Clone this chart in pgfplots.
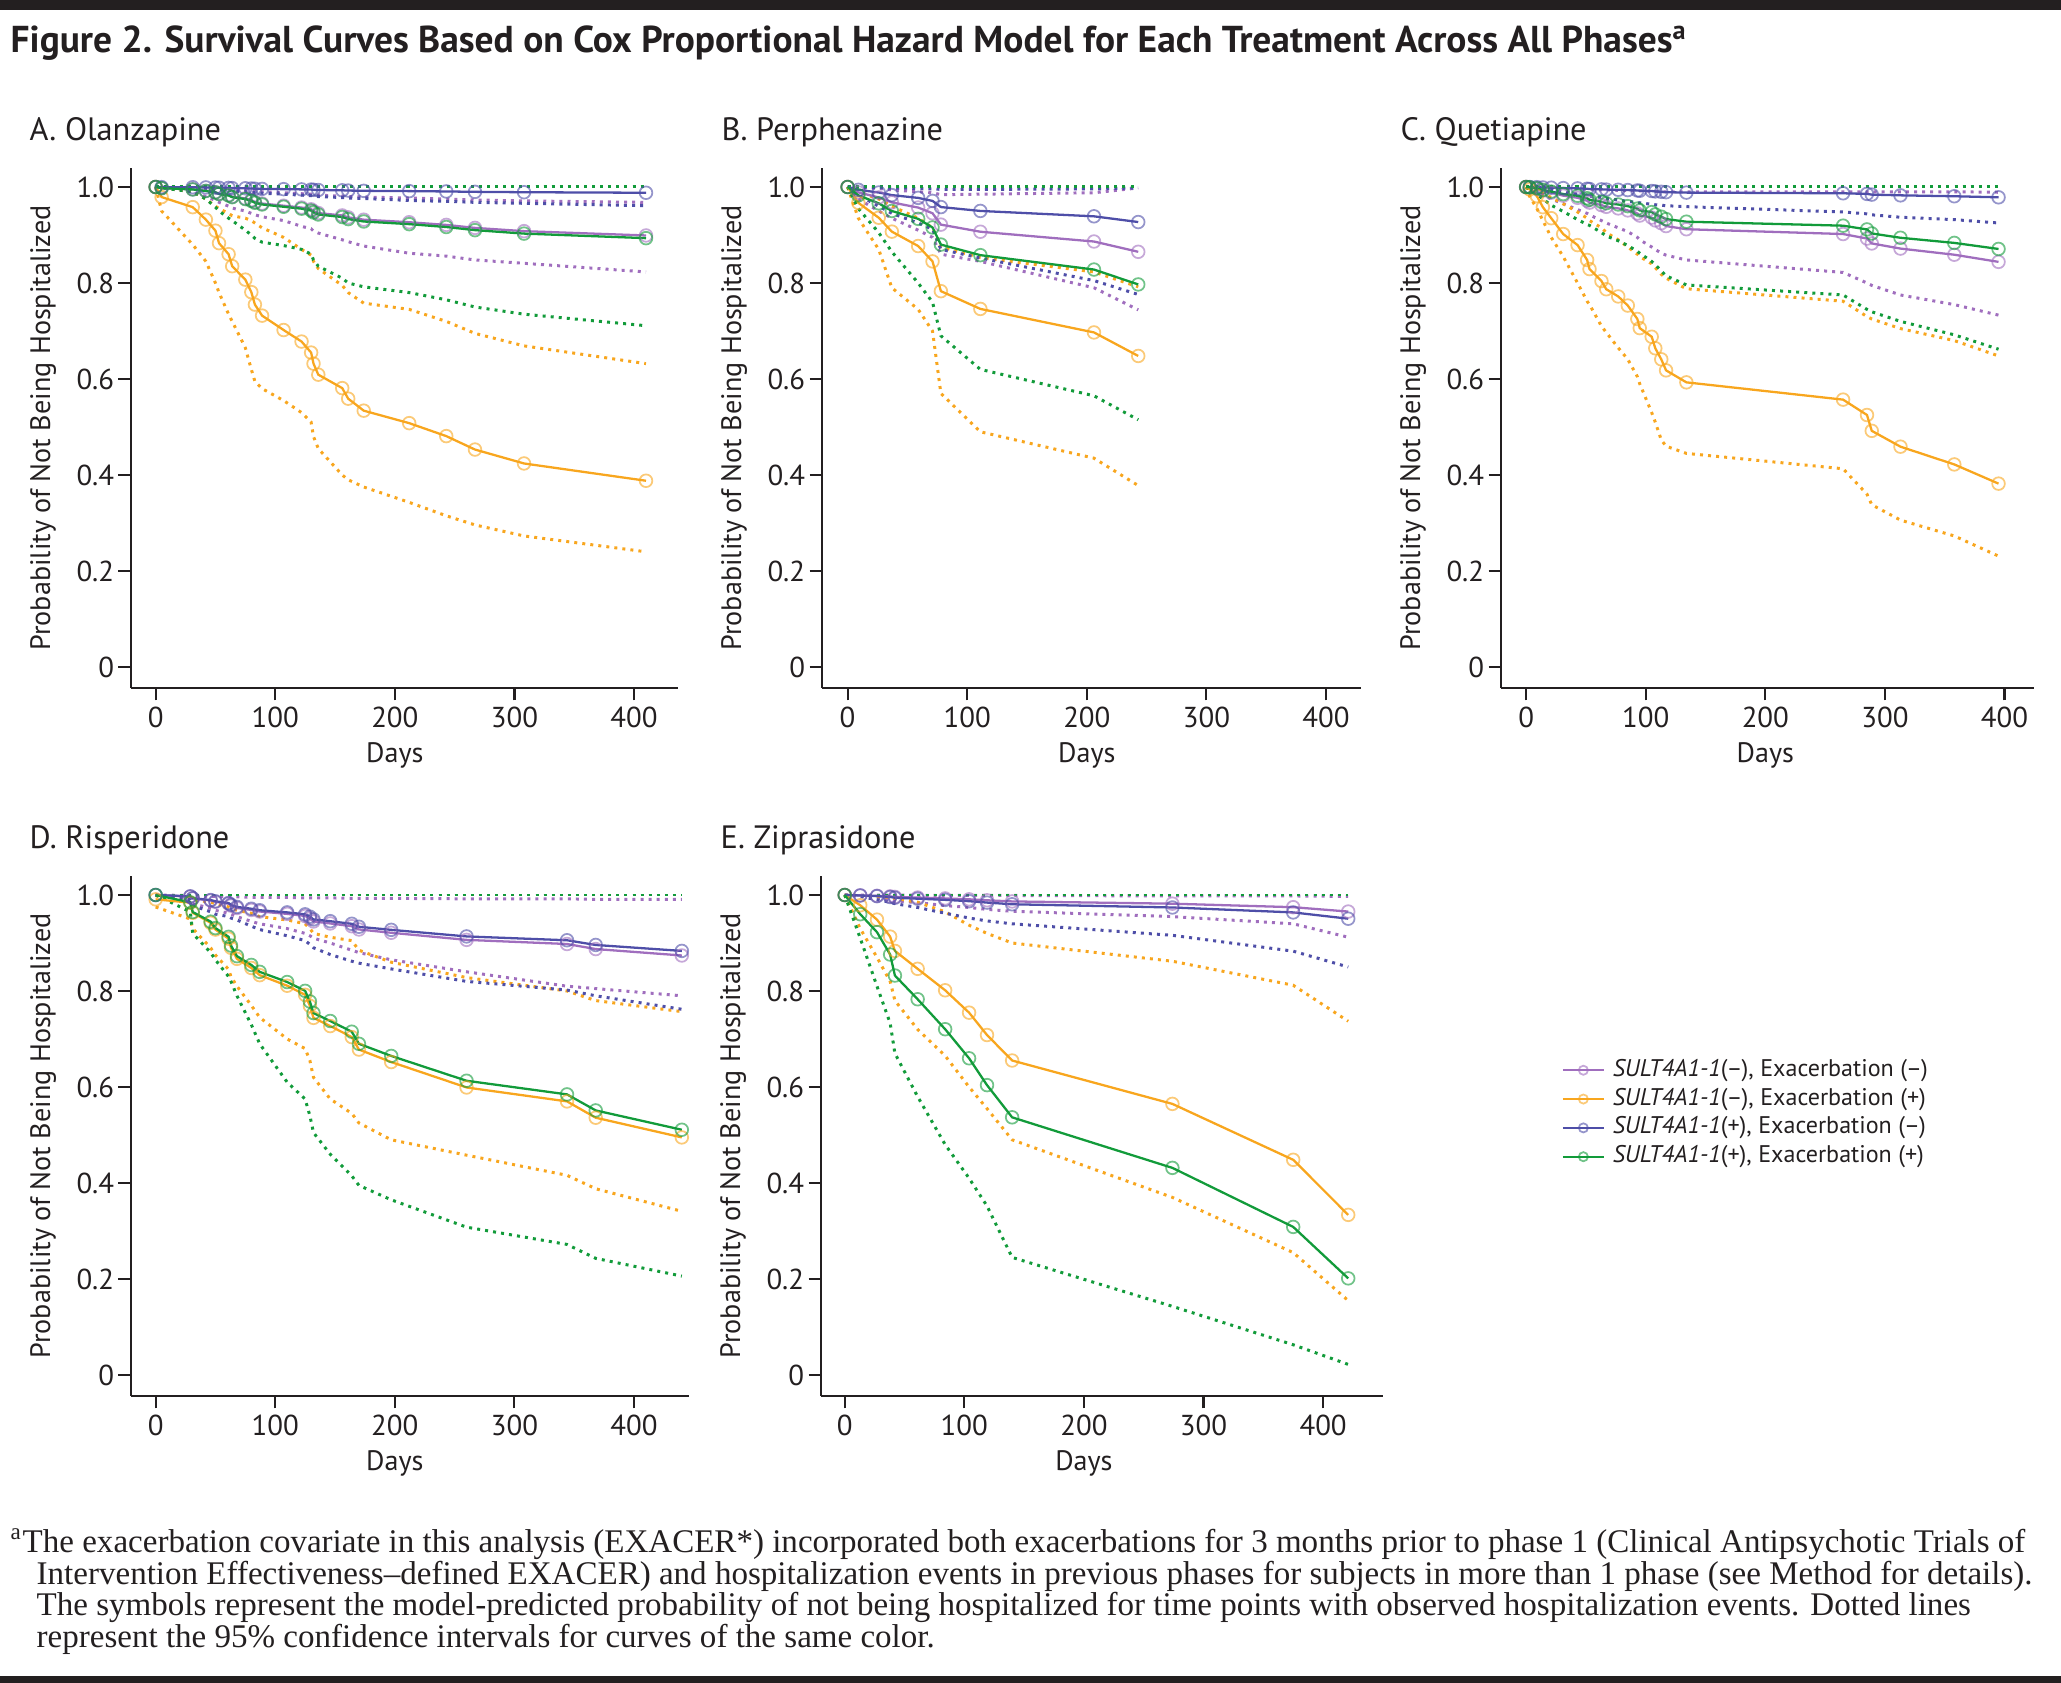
\documentclass[border=0pt]{standalone}
\usepackage{pgfplots}
\pgfplotsset{compat=1.18}
\usepackage{pgfplotstable}
\usepackage{fontspec}
\setmainfont{PT Sans}
\newfontfamily\notefont{Liberation Serif}

\definecolor{cP}{RGB}{160,110,190}
\definecolor{cO}{RGB}{248,166,30}
\definecolor{cB}{RGB}{78,78,168}
\definecolor{cG}{RGB}{18,155,58}
\definecolor{ink}{RGB}{35,31,32}

\pgfplotsset{
  panel/.style={
    scale only axis, height=5.2cm,
    ymin=-0.04375, ymax=1.0396,
    axis lines=left, axis line style={-, ink, line width=0.6pt},
    tick align=outside, major tick length=1.25mm,
    tick style={ink, line width=0.6pt},
    ytick={0,0.2,0.4,0.6,0.8,1.0}, yticklabels={0,0.2,0.4,0.6,0.8,1.0},
    xtick={0,100,200,300,400}, xticklabels={0,100,200,300,400},
    tick label style={font=\fontsize{8.2}{9}\selectfont, text=ink},
    yticklabel style={xshift=0.08cm},
    xticklabel style={yshift=0.055cm},
    label style={font=\fontsize{8.0}{9}\selectfont, text=ink},
    xlabel=Days, ylabel=Probability of Not Being Hospitalized,
    xlabel style={at={(axis cs:200,-0.04375)}, anchor=center, yshift=-0.67cm},
    clip=false,
  },
  surv/.style={line width=0.65pt, mark=o, mark size=1.8pt,
    mark options={solid, line width=0.5pt, draw opacity=0.6}},
  ci/.style={line width=0.85pt, dash pattern=on 0.85pt off 1.45pt, no marks},
}

\newcommand\cis[1]{%
  \addplot[ci,cP,forget plot] table[x=t,y=pl]{#1};
  \addplot[ci,cP,forget plot] table[x=t,y=pu]{#1};
  \addplot[ci,cO,forget plot] table[x=t,y=ol]{#1};
  \addplot[ci,cO,forget plot] table[x=t,y=ou]{#1};
  \addplot[ci,cB,forget plot] table[x=t,y=bl]{#1};
  \addplot[ci,cB,forget plot] table[x=t,y=bu]{#1};
  \addplot[ci,cG,forget plot] table[x=t,y=gl]{#1};
  \addplot[ci,cG,forget plot] table[x=t,y=gu]{#1};
}
\newcommand\sols[1]{%
  \addplot[surv,cP] table[x=t,y=p]{#1};
  \addplot[surv,cO] table[x=t,y=o]{#1};
  \addplot[surv,cB] table[x=t,y=b]{#1};
  \addplot[surv,cG] table[x=t,y=g]{#1};
}

% A. Olanzapine
\pgfplotstableread{
t p pl pu o ol ou b bl bu g gl gu
0 1 1 1 1 1 1 1 1 1 1 1 1
5 0.9976 0.998 0.9998 0.979 0.950 0.999 0.9997 0.9995 1 0.9975 0.998 1
31 0.9952 0.99 0.999 0.958 0.88 0.99 0.9995 0.998 1 0.9949 0.99 1
42 0.9921 0.98 0.998 0.932 0.845 0.975 0.9991 0.996 1 0.9917 0.975 1
50 0.9893 0.972 0.997 0.909 0.80 0.96 0.9988 0.995 1 0.9887 0.958 1
53 0.9861 0.968 0.996 0.883 0.78 0.955 0.9984 0.994 1 0.9853 0.95 1
61 0.9832 0.96 0.995 0.860 0.735 0.945 0.9981 0.993 1 0.9822 0.935 1
64 0.9799 0.956 0.994 0.835 0.72 0.94 0.9977 0.992 1 0.9788 0.93 1
75 0.9762 0.95 0.993 0.807 0.665 0.935 0.9973 0.99 1 0.9748 0.91 1
80 0.9726 0.945 0.992 0.781 0.62 0.93 0.9968 0.989 1 0.9710 0.90 1
83 0.9689 0.942 0.991 0.755 0.595 0.925 0.9964 0.988 1 0.9671 0.893 1
89 0.9655 0.938 0.99 0.732 0.58 0.915 0.9960 0.987 1 0.9636 0.885 1
107 0.9610 0.93 0.988 0.702 0.555 0.895 0.9955 0.985 1 0.9588 0.878 1
122 0.9572 0.918 0.986 0.678 0.53 0.87 0.9950 0.983 1 0.9548 0.87 1
130 0.9535 0.913 0.985 0.655 0.51 0.858 0.9946 0.982 1 0.9509 0.86 1
132 0.9497 0.908 0.984 0.632 0.48 0.845 0.9941 0.981 1 0.9469 0.848 1
136 0.9457 0.904 0.983 0.609 0.455 0.83 0.9937 0.98 1 0.9427 0.835 1
156 0.9407 0.89 0.981 0.581 0.40 0.795 0.9931 0.978 1 0.9374 0.81 1
161 0.9367 0.886 0.98 0.559 0.39 0.78 0.9926 0.977 1 0.9331 0.80 1
174 0.9319 0.877 0.979 0.534 0.375 0.758 0.9920 0.976 1 0.9281 0.792 1
212 0.9266 0.862 0.977 0.508 0.343 0.745 0.9914 0.972 1 0.9226 0.78 1
243 0.9210 0.856 0.975 0.481 0.315 0.72 0.9907 0.97 1 0.9166 0.765 1
267 0.9148 0.848 0.973 0.453 0.296 0.695 0.9899 0.968 1 0.9101 0.75 1
308 0.9080 0.841 0.971 0.424 0.273 0.669 0.9891 0.966 1 0.9029 0.735 1
410 0.8990 0.823 0.968 0.388 0.240 0.632 0.9880 0.961 1 0.8934 0.711 1
}\tA

% B. Perphenazine
\pgfplotstableread{
t p pl pu o ol ou b bl bu g gl gu
0 1 1 1 1 1 1 1 1 1 1 1 1
9 0.9888 0.975 0.999 0.967 0.935 0.99 0.9941 0.983 0.9995 0.9826 0.955 1
26 0.9782 0.95 0.997 0.936 0.87 0.975 0.9885 0.96 0.999 0.966 0.905 1
37 0.9679 0.935 0.994 0.907 0.79 0.96 0.9831 0.945 0.998 0.950 0.865 1
59 0.9571 0.91 0.99 0.877 0.745 0.935 0.9773 0.925 0.997 0.9336 0.80 1
71 0.9453 0.895 0.988 0.845 0.70 0.915 0.9710 0.912 0.996 0.9157 0.76 1
78 0.9216 0.86 0.984 0.783 0.57 0.875 0.9582 0.87 0.995 0.880 0.69 1
111 0.9068 0.845 0.985 0.746 0.49 0.853 0.9501 0.852 0.995 0.858 0.62 1
206 0.8864 0.79 0.988 0.697 0.435 0.823 0.9389 0.805 0.996 0.828 0.565 1
243 0.865 0.744 0.998 0.648 0.378 0.792 0.927 0.776 0.998 0.797 0.515 1
}\tB

% C. Quetiapine
\pgfplotstableread{
t p pl pu o ol ou b bl bu g gl gu
0 1 1 1 1 1 1 1 1 1 1 1 1
3 0.9991 0.997 1 0.995 0.98 0.999 0.9999 0.9995 1 0.9993 0.995 1
9 0.9966 0.99 0.9995 0.981 0.955 0.995 0.9996 0.998 1 0.9973 0.985 1
14 0.9925 0.983 0.999 0.958 0.93 0.988 0.9990 0.996 1 0.9939 0.975 1
21 0.9882 0.975 0.998 0.935 0.895 0.978 0.9985 0.993 1 0.9904 0.962 1
31 0.9820 0.965 0.997 0.902 0.855 0.965 0.9977 0.99 1 0.9853 0.949 1
43 0.9775 0.953 0.996 0.879 0.80 0.948 0.9971 0.985 1 0.9817 0.932 1
51 0.9713 0.945 0.995 0.848 0.762 0.935 0.9963 0.982 1 0.9766 0.922 1
53 0.9675 0.942 0.995 0.829 0.755 0.93 0.9958 0.981 1 0.9734 0.92 1
63 0.9623 0.93 0.994 0.804 0.71 0.915 0.9951 0.978 1 0.9692 0.905 1
67 0.9587 0.925 0.994 0.787 0.697 0.905 0.9946 0.976 1 0.9662 0.898 1
77 0.9554 0.915 0.993 0.772 0.665 0.89 0.9942 0.973 1 0.9635 0.888 1
85 0.9512 0.907 0.993 0.753 0.641 0.875 0.9936 0.97 1 0.9601 0.878 1
93 0.9449 0.895 0.992 0.725 0.605 0.86 0.9928 0.968 1 0.9549 0.866 1
95 0.9405 0.89 0.992 0.706 0.59 0.855 0.9922 0.967 1 0.9512 0.862 1
105 0.9362 0.875 0.991 0.688 0.53 0.84 0.9916 0.964 1 0.9477 0.845 1
108 0.9304 0.87 0.991 0.664 0.51 0.832 0.9908 0.963 1 0.9429 0.838 1
113 0.9246 0.862 0.99 0.641 0.473 0.818 0.9900 0.962 1 0.9381 0.825 1
117 0.9186 0.858 0.99 0.618 0.46 0.81 0.9892 0.961 1 0.9332 0.815 1
134 0.9120 0.848 0.99 0.593 0.445 0.788 0.9883 0.959 1 0.9277 0.796 1
265 0.9020 0.822 0.99 0.557 0.413 0.762 0.9869 0.948 1 0.9194 0.775 1
285 0.8926 0.80 0.99 0.525 0.36 0.73 0.9856 0.944 1 0.9116 0.745 1
289 0.8824 0.795 0.99 0.492 0.338 0.725 0.9841 0.942 1 0.9032 0.74 1
313 0.8717 0.775 0.99 0.459 0.306 0.705 0.9826 0.937 1 0.8942 0.72 1
358 0.8589 0.755 0.99 0.422 0.273 0.68 0.9807 0.932 1 0.8835 0.692 1
395 0.8440 0.733 0.989 0.382 0.231 0.648 0.9785 0.925 1 0.8709 0.662 1
}\tC

% D. Risperidone
\pgfplotstableread{
t p pl pu o ol ou b bl bu g gl gu
0 1 1 1 0.991 0.975 0.998 1 1 1 1 1 1
29 0.9969 0.993 0.999 0.984 0.95 0.995 0.9972 0.99 1 0.9847 0.965 1
31 0.9928 0.982 0.998 0.963 0.93 0.99 0.9934 0.978 1 0.9646 0.92 1
46 0.9886 0.972 0.997 0.942 0.89 0.985 0.9895 0.965 1 0.9445 0.88 1
50 0.9858 0.968 0.997 0.928 0.875 0.982 0.9869 0.96 1 0.9311 0.865 1
61 0.9819 0.962 0.996 0.909 0.845 0.975 0.9833 0.955 1 0.9129 0.83 1
63 0.9779 0.96 0.996 0.89 0.83 0.972 0.9797 0.952 1 0.8947 0.82 1
68 0.9730 0.955 0.996 0.867 0.81 0.968 0.9752 0.948 1 0.8726 0.79 1
80 0.9689 0.945 0.995 0.848 0.77 0.962 0.9714 0.935 1 0.8543 0.73 1
87 0.9656 0.94 0.995 0.833 0.745 0.955 0.9683 0.928 1 0.8399 0.69 1
110 0.9607 0.93 0.995 0.811 0.70 0.948 0.9638 0.915 1 0.8187 0.61 1
125 0.9563 0.92 0.994 0.792 0.68 0.94 0.9597 0.905 1 0.8003 0.575 1
129 0.9509 0.915 0.994 0.769 0.655 0.93 0.9548 0.897 1 0.7782 0.54 1
132 0.9449 0.91 0.994 0.744 0.62 0.92 0.9492 0.89 1 0.7540 0.505 1
146 0.9407 0.90 0.994 0.727 0.575 0.912 0.9454 0.876 1 0.7375 0.46 1
164 0.9350 0.885 0.993 0.704 0.545 0.905 0.9400 0.862 1 0.7152 0.415 1
170 0.9282 0.88 0.993 0.678 0.525 0.885 0.9338 0.858 1 0.6900 0.395 1
197 0.9213 0.865 0.993 0.652 0.49 0.86 0.9274 0.846 1 0.6647 0.365 1
260 0.9065 0.84 0.992 0.599 0.458 0.828 0.9137 0.82 1 0.6130 0.308 1
344 0.8979 0.81 0.992 0.57 0.416 0.80 0.9057 0.802 1 0.5846 0.272 1
368 0.8874 0.805 0.991 0.536 0.388 0.78 0.8959 0.79 1 0.5512 0.243 1
440 0.8740 0.79 0.991 0.495 0.341 0.757 0.8835 0.762 1 0.5109 0.206 1
}\tD

% E. Ziprasidone
\pgfplotstableread{
t p pl pu o ol ou b bl bu g gl gu
0 1 1 1 1 1 1 1 1 1 1 1 1
13 0.9993 0.998 1 0.9786 0.93 0.999 0.9990 0.997 1 0.960 0.91 1
27 0.9983 0.995 1 0.9487 0.87 0.997 0.9976 0.99 1 0.9226 0.81 1
38 0.9971 0.99 1 0.9133 0.82 0.995 0.9958 0.985 1 0.876 0.733 1
42 0.9960 0.988 1 0.8835 0.78 0.993 0.9943 0.982 1 0.8322 0.67 1
61 0.9947 0.984 0.9995 0.8462 0.72 0.985 0.9923 0.974 1 0.7828 0.58 1
84 0.9929 0.978 0.999 0.8015 0.665 0.965 0.9899 0.962 1 0.7204 0.48 1
104 0.9910 0.974 0.999 0.7549 0.60 0.937 0.9871 0.952 1 0.6598 0.41 1
119 0.9890 0.97 0.999 0.7083 0.555 0.92 0.9842 0.946 1 0.6039 0.352 1
140 0.9866 0.966 0.999 0.6552 0.49 0.90 0.9807 0.94 1 0.5368 0.245 1
274 0.9819 0.955 0.998 0.5648 0.37 0.862 0.9740 0.916 1 0.4315 0.143 1
375 0.9746 0.94 0.998 0.4483 0.255 0.812 0.9637 0.883 1 0.3085 0.063 1
421 0.9655 0.912 0.997 0.3336 0.155 0.737 0.9506 0.85 1 0.2013 0.022 1
}\tE

\begin{document}
\begin{tikzpicture}
\path[use as bounding box] (0,0) rectangle (20.61,16.83);
\fill[ink] (0,16.73) rectangle (20.61,16.83);
\fill[ink] (0,0) rectangle (20.61,0.07);

\node[anchor=base west, inner sep=0, text=ink, font=\fontsize{10.65}{12}\selectfont\bfseries]
  at (0.10,16.30) {Figure 2. Survival Curves Based on Cox Proportional Hazard Model for Each Treatment Across All Phases\textsuperscript{a}};

\begin{scope}[every node/.style={anchor=base west, inner sep=0, text=ink, font=\fontsize{9.2}{11}\selectfont}]
\node at (0.29,15.42) {A. Olanzapine};
\node at (7.21,15.42) {B. Perphenazine};
\node at (14.00,15.42) {C. Quetiapine};
\node at (0.29,8.34) {D. Risperidone};
\node at (7.20,8.34) {E. Ziprasidone};
\end{scope}

\begin{axis}[panel, at={(1.31cm,9.95cm)}, anchor=south west, width=5.473cm,
  xmin=-20.6, xmax=437, ylabel style={at={(axis description cs:-0.1608,0.5)}, anchor=center}]
\cis{\tA}
\sols{\tA}
\end{axis}

\begin{axis}[panel, at={(8.22cm,9.95cm)}, anchor=south west, width=5.394cm,
  xmin=-21.4, xmax=429.6, ylabel style={at={(axis description cs:-0.1631,0.5)}, anchor=center}]
\cis{\tB}
\sols{\tB}
\end{axis}

\begin{axis}[panel, at={(15.01cm,9.95cm)}, anchor=south west, width=5.334cm,
  xmin=-21, xmax=425, ylabel style={at={(axis description cs:-0.165,0.5)}, anchor=center}]
\cis{\tC}
\sols{\tC}
\end{axis}

\begin{axis}[panel, at={(1.31cm,2.87cm)}, anchor=south west, width=5.58cm,
  xmin=-20.6, xmax=446, ylabel style={at={(axis description cs:-0.1577,0.5)}, anchor=center}]
\cis{\tD}
\sols{\tD}
\end{axis}

\begin{axis}[panel, at={(8.21cm,2.87cm)}, anchor=south west, width=5.619cm,
  xmin=-19.8, xmax=450, ylabel style={at={(axis description cs:-0.1566,0.5)}, anchor=center},
  legend style={at={(axis description cs:1.317,0.5433)}, anchor=west, draw=none, fill=none,
    inner sep=0pt, row sep=1.0pt, font=\fontsize{6.85}{7.5}\selectfont,
    nodes={inner sep=0.5pt, text height=4.8pt, text depth=1.4pt, text=ink}},
  legend cell align=left,
  legend image code/.code={\draw[#1, mark size=1.3pt, mark repeat=2, mark phase=2]
    plot coordinates {(0cm,0cm) (0.205cm,0cm) (0.41cm,0cm)}; \path (0.47cm,0cm);}]
\cis{\tE}
\sols{\tE}
\legend{{\textit{SULT4A1-1}(–), Exacerbation (–)},{\textit{SULT4A1-1}(–), Exacerbation (+)},{\textit{SULT4A1-1}(+), Exacerbation (–)},{\textit{SULT4A1-1}(+), Exacerbation (+)}}
\end{axis}

\begin{scope}[every node/.style={anchor=base west, inner sep=0, text=ink, font=\notefont\fontsize{9.4}{11}\selectfont}]
\node at (0.10,1.30) {\textsuperscript{a}The exacerbation covariate in this analysis (EXACER*) incorporated both exacerbations for 3 months prior to phase 1 (Clinical Antipsychotic Trials of};
\node at (0.36,0.98) {Intervention Effectiveness–defined EXACER) and hospitalization events in previous phases for subjects in more than 1 phase (see Method for details).};
\node at (0.36,0.67) {The symbols represent the model-predicted probability of not being hospitalized for time points with observed hospitalization events. Dotted lines};
\node at (0.36,0.35) {represent the 95\% confidence intervals for curves of the same color.};
\end{scope}
\end{tikzpicture}
\end{document}
